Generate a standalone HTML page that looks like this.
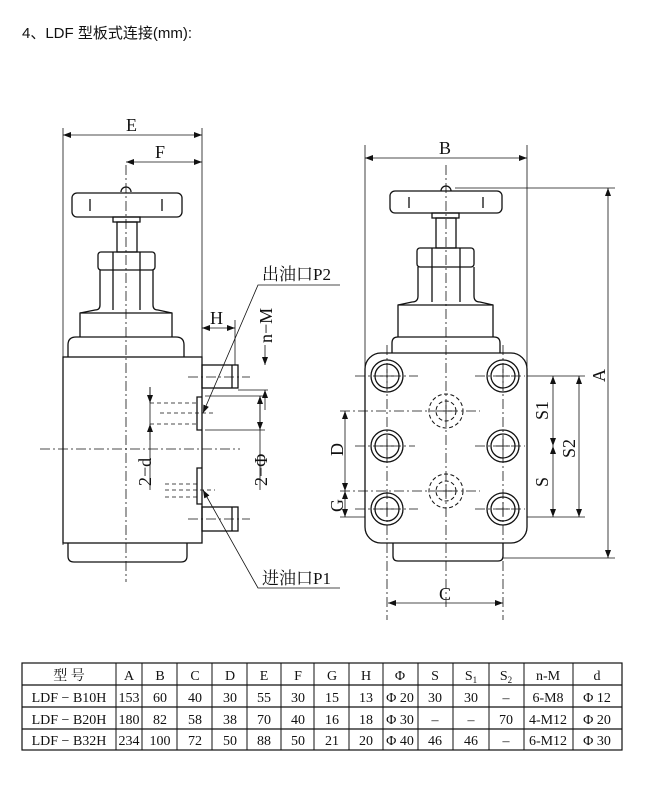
<!DOCTYPE html>
<html><head><meta charset="utf-8"><style>
html,body{margin:0;padding:0;background:#fff;}
svg{display:block;}
text{font-family:"Liberation Serif","Noto Serif CJK SC",serif;fill:#111;}
.t{font-family:"Liberation Sans","Noto Sans CJK SC",sans-serif;}
</style></head><body>
<svg width="670" height="805" viewBox="0 0 670 805" xmlns="http://www.w3.org/2000/svg">
<defs>
<marker id="ar" markerWidth="8" markerHeight="6" refX="8" refY="3" orient="auto-start-reverse" markerUnits="userSpaceOnUse"><path d="M0,0 L8,3 L0,6 z" fill="#111"/></marker>
</defs>
<text x="22" y="38" class="t" font-size="15">4、LDF 型板式连接(mm):</text>

<g stroke="#111" fill="none" stroke-width="1.3">
<!-- LEFT VIEW -->
<line x1="63" y1="128" x2="63" y2="545" stroke-width="0.8"/>
<line x1="202" y1="128" x2="202" y2="360" stroke-width="0.8"/>
<line x1="63" y1="135" x2="202" y2="135" stroke-width="0.8" marker-start="url(#ar)" marker-end="url(#ar)"/>
<line x1="126" y1="162" x2="202" y2="162" stroke-width="0.8" marker-start="url(#ar)" marker-end="url(#ar)"/>
<path d="M121,192 a5,5 0 0 1 10,0"/>
<rect x="72" y="193" width="110" height="24" rx="5"/>
<line x1="90" y1="199" x2="90" y2="211"/><line x1="162" y1="199" x2="162" y2="211"/>
<rect x="113" y="217" width="27" height="5"/>
<rect x="117" y="222" width="20" height="30"/>
<rect x="98" y="252" width="57" height="18" rx="3"/>
<line x1="113" y1="252" x2="113" y2="270"/><line x1="140" y1="252" x2="140" y2="270"/>
<path d="M100,270 L100,305 Q100,310 95,310 L80,313 L80,337 M153,270 L153,305 Q153,310 158,310 L172,313 L172,337"/>
<line x1="113" y1="270" x2="113" y2="310"/><line x1="140" y1="270" x2="140" y2="310"/>
<line x1="80" y1="313" x2="172" y2="313"/>
<path d="M68,357 L68,345 Q68,337 76,337 L176,337 Q184,337 184,345 L184,357"/>
<rect x="63" y="357" width="139" height="186"/>
<path d="M68,543 L68,556 Q68,562 74,562 L181,562 Q187,562 187,556 L187,543"/>
<rect x="202" y="365" width="36" height="23"/><line x1="232" y1="365" x2="232" y2="388"/>
<rect x="202" y="507" width="36" height="24"/><line x1="232" y1="507" x2="232" y2="531"/>
<path d="M202,397 L197,397 L197,430 L202,430 M202,468 L197,468 L197,504 L202,504"/>
<g stroke-width="0.8" stroke-dasharray="10,3,2,3">
<line x1="126" y1="165" x2="126" y2="582"/>
<line x1="40" y1="449" x2="240" y2="449"/>
<line x1="188" y1="377" x2="250" y2="377"/>
<line x1="188" y1="519" x2="250" y2="519"/>
</g>
<g stroke-width="0.8" stroke-dasharray="4,3">
<line x1="150" y1="403" x2="197" y2="403"/><line x1="150" y1="424" x2="197" y2="424"/>
<line x1="160" y1="413" x2="215" y2="413"/>
<line x1="165" y1="484" x2="197" y2="484"/><line x1="165" y1="497" x2="197" y2="497"/>
<line x1="165" y1="490" x2="215" y2="490"/>
</g>
<g stroke-width="0.8">
<line x1="202" y1="310" x2="202" y2="365"/>
<line x1="235" y1="320" x2="235" y2="365"/>
<line x1="202" y1="328" x2="235" y2="328" marker-start="url(#ar)" marker-end="url(#ar)"/>
<line x1="238" y1="390" x2="268" y2="390"/>
<line x1="265" y1="345" x2="265" y2="365" marker-end="url(#ar)"/>
<line x1="265" y1="390" x2="265" y2="410" marker-start="url(#ar)"/>
<line x1="205" y1="396" x2="265" y2="396"/>
<line x1="205" y1="430" x2="265" y2="430"/>
<line x1="260" y1="396" x2="260" y2="490" marker-start="url(#ar)"/>
<line x1="260" y1="400" x2="260" y2="430" marker-end="url(#ar)"/>
<line x1="150" y1="387" x2="150" y2="490"/>
<line x1="150" y1="387" x2="150" y2="403" marker-end="url(#ar)"/>
<line x1="150" y1="424" x2="150" y2="440" marker-start="url(#ar)"/>
<polyline points="340,285 258,285 203,413" marker-end="url(#ar)"/>
<polyline points="340,588 258,588 203,490" marker-end="url(#ar)"/>
</g>

<!-- RIGHT VIEW -->
<line x1="365" y1="145" x2="365" y2="400" stroke-width="0.8"/>
<line x1="527" y1="145" x2="527" y2="400" stroke-width="0.8"/>
<line x1="365" y1="158" x2="527" y2="158" stroke-width="0.8" marker-start="url(#ar)" marker-end="url(#ar)"/>
<path d="M441,191 a5,5 0 0 1 10,0"/>
<rect x="390" y="191" width="112" height="22" rx="5"/>
<line x1="409" y1="197" x2="409" y2="208"/><line x1="483" y1="197" x2="483" y2="208"/>
<rect x="432" y="213" width="27" height="5"/>
<rect x="436" y="218" width="20" height="30"/>
<rect x="417" y="248" width="57" height="19" rx="3"/>
<line x1="432" y1="248" x2="432" y2="267"/><line x1="460" y1="248" x2="460" y2="267"/>
<path d="M418,267 L418,296 Q418,302 412,302 L398,305 L398,337 M474,267 L474,296 Q474,302 480,302 L493,305 L493,337"/>
<line x1="432" y1="267" x2="432" y2="302"/><line x1="460" y1="267" x2="460" y2="302"/>
<line x1="398" y1="305" x2="493" y2="305"/>
<path d="M392,353 L392,343 Q392,337 398,337 L494,337 Q500,337 500,343 L500,353"/>
<rect x="365" y="353" width="162" height="190" rx="16"/>
<path d="M393,543 L393,556 Q393,561 398,561 L498,561 Q503,561 503,556 L503,543"/>
<g>
<circle cx="387" cy="376" r="16"/><circle cx="387" cy="376" r="12"/>
<circle cx="503" cy="376" r="16"/><circle cx="503" cy="376" r="12"/>
<circle cx="387" cy="446" r="16"/><circle cx="387" cy="446" r="12"/>
<circle cx="503" cy="446" r="16"/><circle cx="503" cy="446" r="12"/>
<circle cx="387" cy="509" r="16"/><circle cx="387" cy="509" r="12"/>
<circle cx="503" cy="509" r="16"/><circle cx="503" cy="509" r="12"/>
</g>
<g stroke-dasharray="4,2.5" stroke-width="1">
<circle cx="446" cy="411" r="17"/><circle cx="446" cy="411" r="10"/>
<circle cx="446" cy="491" r="17"/><circle cx="446" cy="491" r="10"/>
</g>
<g stroke-width="0.8">
<line x1="380" y1="376" x2="394" y2="376"/><line x1="387" y1="369" x2="387" y2="383"/>
<line x1="496" y1="376" x2="510" y2="376"/><line x1="503" y1="369" x2="503" y2="383"/>
<line x1="380" y1="446" x2="394" y2="446"/><line x1="387" y1="439" x2="387" y2="453"/>
<line x1="496" y1="446" x2="510" y2="446"/><line x1="503" y1="439" x2="503" y2="453"/>
<line x1="380" y1="509" x2="394" y2="509"/><line x1="387" y1="502" x2="387" y2="516"/>
<line x1="496" y1="509" x2="510" y2="509"/><line x1="503" y1="502" x2="503" y2="516"/>
<line x1="440" y1="411" x2="452" y2="411"/><line x1="446" y1="405" x2="446" y2="417"/>
<line x1="440" y1="491" x2="452" y2="491"/><line x1="446" y1="485" x2="446" y2="497"/>
</g>
<g stroke-width="0.8" stroke-dasharray="10,3,2,3">
<line x1="446" y1="165" x2="446" y2="610"/>
<line x1="387" y1="345" x2="387" y2="620"/>
<line x1="503" y1="345" x2="503" y2="620"/>
<line x1="355" y1="376" x2="418" y2="376"/><line x1="475" y1="376" x2="525" y2="376"/>
<line x1="355" y1="446" x2="415" y2="446"/><line x1="475" y1="446" x2="525" y2="446"/>
<line x1="355" y1="509" x2="418" y2="509"/><line x1="475" y1="509" x2="525" y2="509"/>
<line x1="340" y1="411" x2="480" y2="411"/>
<line x1="340" y1="491" x2="480" y2="491"/>
</g>
<g stroke-width="0.8">
<line x1="340" y1="517" x2="365" y2="517"/>
<line x1="345" y1="411" x2="345" y2="491" marker-start="url(#ar)" marker-end="url(#ar)"/>
<line x1="345" y1="491" x2="345" y2="517" marker-start="url(#ar)" marker-end="url(#ar)"/>
<line x1="527" y1="376" x2="585" y2="376"/>
<line x1="527" y1="517" x2="585" y2="517"/>
<line x1="553" y1="376" x2="553" y2="446" marker-start="url(#ar)" marker-end="url(#ar)"/>
<line x1="553" y1="446" x2="553" y2="517" marker-start="url(#ar)" marker-end="url(#ar)"/>
<line x1="579" y1="376" x2="579" y2="517" marker-start="url(#ar)" marker-end="url(#ar)"/>
<line x1="455" y1="188" x2="615" y2="188"/>
<line x1="503" y1="558" x2="615" y2="558"/>
<line x1="608" y1="188" x2="608" y2="558" marker-start="url(#ar)" marker-end="url(#ar)"/>
<line x1="388" y1="603" x2="503" y2="603" marker-start="url(#ar)" marker-end="url(#ar)"/>
</g>
</g>

<g font-size="18">
<text x="126" y="131">E</text>
<text x="155" y="158">F</text>
<text x="210" y="324">H</text>
<text transform="translate(272,343) rotate(-90)">n−M</text>
<text transform="translate(267,486) rotate(-90)">2−Φ</text>
<text transform="translate(151,486) rotate(-90)">2−d</text>
<text x="262" y="280" font-size="17">出油口P2</text>
<text x="262" y="584" font-size="17">进油口P1</text>
<text x="439" y="154">B</text>
<text x="439" y="600">C</text>
<text transform="translate(605,382) rotate(-90)">A</text>
<text transform="translate(548,420) rotate(-90)">S1</text>
<text transform="translate(548,487) rotate(-90)">S</text>
<text transform="translate(575,458) rotate(-90)">S2</text>
<text transform="translate(343,456) rotate(-90)">D</text>
<text transform="translate(343,512) rotate(-90)">G</text>
</g>

<!-- TABLE -->
<g stroke="#111" stroke-width="1.2" fill="none">
<rect x="22" y="663" width="600" height="87"/>
<line x1="22" y1="685" x2="622" y2="685"/>
<line x1="22" y1="707" x2="622" y2="707"/>
<line x1="22" y1="729" x2="622" y2="729"/>
<g stroke-width="1">
<line x1="116" y1="663" x2="116" y2="750"/><line x1="142" y1="663" x2="142" y2="750"/>
<line x1="177" y1="663" x2="177" y2="750"/><line x1="212" y1="663" x2="212" y2="750"/>
<line x1="247" y1="663" x2="247" y2="750"/><line x1="281" y1="663" x2="281" y2="750"/>
<line x1="314" y1="663" x2="314" y2="750"/><line x1="349" y1="663" x2="349" y2="750"/>
<line x1="383" y1="663" x2="383" y2="750"/><line x1="418" y1="663" x2="418" y2="750"/>
<line x1="453" y1="663" x2="453" y2="750"/><line x1="489" y1="663" x2="489" y2="750"/>
<line x1="524" y1="663" x2="524" y2="750"/><line x1="573" y1="663" x2="573" y2="750"/>
</g>
</g>
<g font-size="14" text-anchor="middle">
<text x="69" y="680">型 号</text><text x="129" y="680">A</text><text x="160" y="680">B</text><text x="195" y="680">C</text><text x="230" y="680">D</text><text x="264" y="680">E</text><text x="298" y="680">F</text><text x="332" y="680">G</text><text x="366" y="680">H</text><text x="400" y="680">Φ</text><text x="435" y="680">S</text><text x="471" y="680">S<tspan font-size="9" dy="3">1</tspan></text><text x="506" y="680">S<tspan font-size="9" dy="3">2</tspan></text><text x="548" y="680">n-M</text><text x="597" y="680">d</text>
<text x="69" y="702">LDF − B10H</text><text x="129" y="702">153</text><text x="160" y="702">60</text><text x="195" y="702">40</text><text x="230" y="702">30</text><text x="264" y="702">55</text><text x="298" y="702">30</text><text x="332" y="702">15</text><text x="366" y="702">13</text><text x="400" y="702">Φ 20</text><text x="435" y="702">30</text><text x="471" y="702">30</text><text x="506" y="702">–</text><text x="548" y="702">6-M8</text><text x="597" y="702">Φ 12</text>
<text x="69" y="724">LDF − B20H</text><text x="129" y="724">180</text><text x="160" y="724">82</text><text x="195" y="724">58</text><text x="230" y="724">38</text><text x="264" y="724">70</text><text x="298" y="724">40</text><text x="332" y="724">16</text><text x="366" y="724">18</text><text x="400" y="724">Φ 30</text><text x="435" y="724">–</text><text x="471" y="724">–</text><text x="506" y="724">70</text><text x="548" y="724">4-M12</text><text x="597" y="724">Φ 20</text>
<text x="69" y="745">LDF − B32H</text><text x="129" y="745">234</text><text x="160" y="745">100</text><text x="195" y="745">72</text><text x="230" y="745">50</text><text x="264" y="745">88</text><text x="298" y="745">50</text><text x="332" y="745">21</text><text x="366" y="745">20</text><text x="400" y="745">Φ 40</text><text x="435" y="745">46</text><text x="471" y="745">46</text><text x="506" y="745">–</text><text x="548" y="745">6-M12</text><text x="597" y="745">Φ 30</text>
</g>
</svg>
</body></html>
